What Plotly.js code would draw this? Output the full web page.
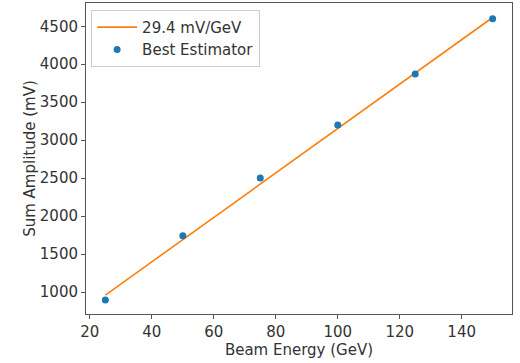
<!DOCTYPE html>
<html>
<head>
<meta charset="utf-8">
<script src="https://cdn.plot.ly/plotly-3.0.1.min.js"></script>
<style>
html,body{margin:0;padding:0;background:#fff;}
#chart{width:520px;height:363px;}
</style>
</head>
<body>
<div id="chart"></div>
<script>
// Data
const beamEnergy = [25, 50, 75, 100, 125, 150];           // GeV
const sumAmplitude = [895, 1742, 2502, 3200, 3872, 4600]; // mV
const amplitudeErr = [15, 15, 15, 15, 15, 15];
const fitX = [25, 150];
const fitY = [960, 4615];
const fitLabel = '29.4 mV/GeV';
const pointLabel = 'Best Estimator';
const xTicks = [20, 40, 60, 80, 100, 120, 140];
const yTicks = [1000, 1500, 2000, 2500, 3000, 3500, 4000, 4500];

const font = 'DejaVu Sans, sans-serif';
const axisColor = '#555';

const traces = [
  {
    x: fitX, y: fitY, type: 'scatter', mode: 'lines', name: fitLabel,
    line: {color: '#ff7f0e', width: 1.6}
  },
  {
    x: beamEnergy, y: sumAmplitude, type: 'scatter', mode: 'markers', name: pointLabel,
    marker: {color: '#1f77b4', size: 7},
    error_y: {type: 'data', array: amplitudeErr, visible: true, color: '#1f77b4', thickness: 1.2, width: 0}
  }
];

const layout = {
  width: 520, height: 363,
  margin: {l: 86, r: 8, t: 3, b: 49},
  paper_bgcolor: '#fff', plot_bgcolor: '#fff',
  font: {family: font, size: 15, color: '#333'},
  showlegend: true,
  legend: {
    x: 0.012, y: 0.978, xanchor: 'left', yanchor: 'top',
    bgcolor: '#fff', bordercolor: '#ccc', borderwidth: 1,
    font: {family: font, size: 15, color: '#333'},
    itemwidth: 40, tracegroupgap: 0
  },
  xaxis: {
    range: [18.75, 156.25], tickvals: xTicks, ticktext: xTicks.map(String),
    showgrid: false, zeroline: false,
    showline: true, mirror: true, linecolor: axisColor, linewidth: 1,
    ticks: 'outside', ticklen: 4, tickcolor: axisColor,
    tickfont: {family: font, size: 15, color: '#333'},
    title: {text: 'Beam Energy (GeV)', font: {family: font, size: 15, color: '#333'}, standoff: 0}
  },
  yaxis: {
    range: [712, 4806], tickvals: yTicks, ticktext: yTicks.map(String),
    showgrid: false, zeroline: false,
    showline: true, mirror: true, linecolor: axisColor, linewidth: 1,
    ticks: 'outside', ticklen: 4, tickcolor: axisColor,
    tickfont: {family: font, size: 15, color: '#333'},
    title: {text: 'Sum Amplitude (mV)', font: {family: font, size: 15, color: '#333'}, standoff: 0}
  }
};

Plotly.newPlot('chart', traces, layout, {displayModeBar: false, staticPlot: true});
</script>
</body>
</html>
